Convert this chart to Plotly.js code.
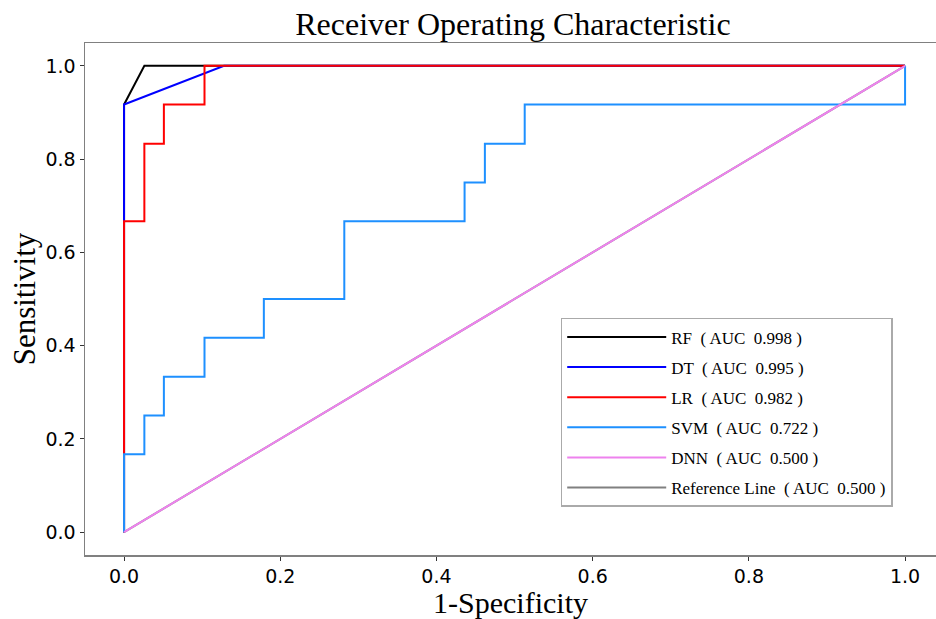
<!DOCTYPE html>
<html>
<head>
<meta charset="utf-8">
<script src="https://cdn.plot.ly/plotly-3.0.1.min.js"></script>
<style>html,body{margin:0;padding:0;background:#fff;}#chart{width:936px;height:619px;}</style>
</head>
<body>
<div id="chart"></div>
<script>
// Data
const refX = [0, 1];
const refY = [0, 1];

const rfX = [0, 0, 0.026, 1];
const rfY = [0, 0.917, 1, 1];

const dtX = [0, 0, 0.128, 1];
const dtY = [0, 0.917, 1, 1];

const lrX = [0, 0, 0.026, 0.026, 0.051, 0.051, 0.103, 0.103, 1];
const lrY = [0, 0.667, 0.667, 0.833, 0.833, 0.917, 0.917, 1, 1];

const svmX = [0, 0, 0.026, 0.026, 0.051, 0.051, 0.103, 0.103, 0.179, 0.179, 0.282, 0.282, 0.436, 0.436, 0.462, 0.462, 0.513, 0.513, 1, 1];
const svmY = [0, 0.167, 0.167, 0.25, 0.25, 0.333, 0.333, 0.417, 0.417, 0.5, 0.5, 0.667, 0.667, 0.75, 0.75, 0.833, 0.833, 0.917, 0.917, 1];

const dnnX = [0, 1];
const dnnY = [0, 1];

const names = {
  rf: 'RF  ( AUC  0.998 )',
  dt: 'DT  ( AUC  0.995 )',
  lr: 'LR  ( AUC  0.982 )',
  svm: 'SVM  ( AUC  0.722 )',
  dnn: 'DNN  ( AUC  0.500 )',
  ref: 'Reference Line  ( AUC  0.500 )'
};

function tr(x, y, name, color, rank) {
  return {x: x, y: y, name: name, type: 'scatter', mode: 'lines',
    line: {color: color, width: 2}, legendrank: rank, legendgroup: 'g' + rank, hoverinfo: 'skip'};
}

const data = [
  tr(refX, refY, names.ref, '#808080', 6),
  tr(rfX, rfY, names.rf, '#000000', 1),
  tr(dtX, dtY, names.dt, '#0000ff', 2),
  tr(lrX, lrY, names.lr, '#ff0000', 3),
  tr(svmX, svmY, names.svm, '#1e90ff', 4),
  tr(dnnX, dnnY, names.dnn, '#ee82ee', 5)
];

const tickVals = [0, 0.2, 0.4, 0.6, 0.8, 1.0];
const tickText = ['0.0', '0.2', '0.4', '0.6', '0.8', '1.0'];

const axisCommon = {
  showgrid: false, zeroline: false, showline: true, linecolor: '#808080', linewidth: 1.5,
  ticks: 'outside', ticklen: 4, tickwidth: 1, tickcolor: '#333',
  tickfont: {family: 'DejaVu Sans', size: 19, color: '#000'},
  tickvals: tickVals, ticktext: tickText, automargin: false
};

const layout = {
  width: 936, height: 619,
  margin: {l: 85, r: 0, t: 43, b: 64},
  paper_bgcolor: '#fff', plot_bgcolor: '#fff',
  title: {text: 'Receiver Operating Characteristic', font: {family: 'Liberation Serif', size: 32, color: '#000'},
    x: 0.548, xref: 'container', xanchor: 'center', y: 0.962, yref: 'container', yanchor: 'middle'},
  xaxis: Object.assign({}, axisCommon, {range: [-0.05, 1.0396], mirror: true,
    title: {text: '1-Specificity', font: {family: 'Liberation Serif', size: 30, color: '#000'}, standoff: 0}}),
  yaxis: Object.assign({}, axisCommon, {range: [-0.049, 1.049],
    title: {text: 'Sensitivity', font: {family: 'Liberation Serif', size: 31, color: '#000'}, standoff: 0}}),
  showlegend: true,
  legend: {x: 0.559, xanchor: 'left', y: 0.463, yanchor: 'top',
    bgcolor: '#fff', bordercolor: '#aaaaaa', borderwidth: 1.5,
    font: {family: 'Liberation Serif', size: 17, color: '#000'},
    traceorder: 'grouped', tracegroupgap: 5, itemwidth: 99}
};

Plotly.newPlot('chart', data, layout, {staticPlot: true, displayModeBar: false});
</script>
</body>
</html>
